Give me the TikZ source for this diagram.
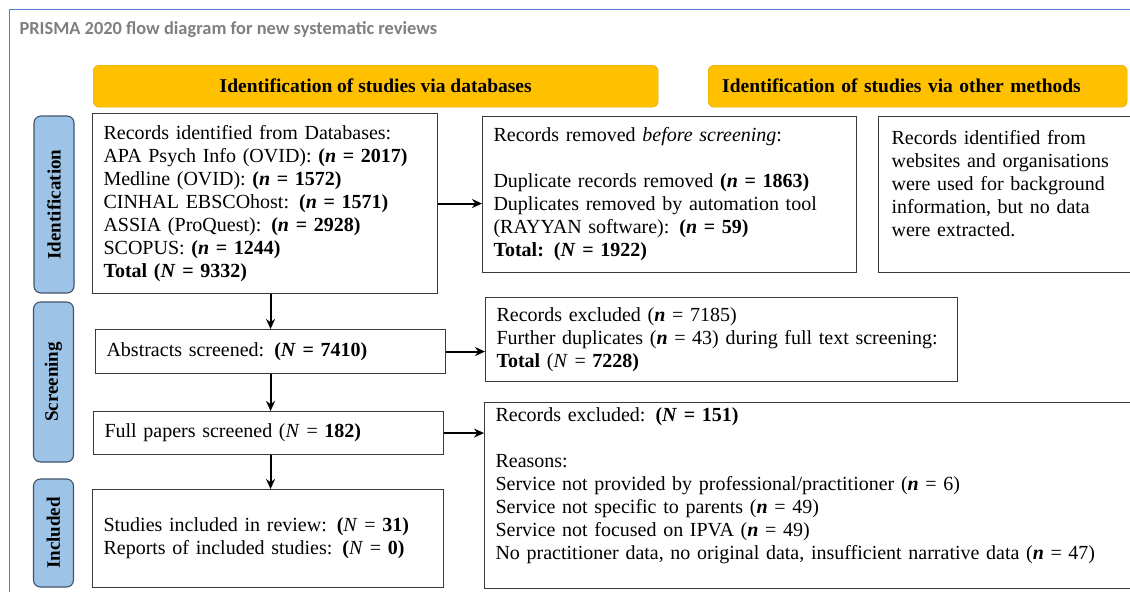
\documentclass[tikz,border=0pt]{standalone}
\usepackage{fontspec}
\setmainfont{Liberation Serif}
\newfontfamily\prismafont{Carlito}
\usetikzlibrary{arrows.meta}
\definecolor{hdryellow}{HTML}{FFC000}
\definecolor{hdredge}{HTML}{D9A400}
\definecolor{phaseblue}{HTML}{9DC3E6}
\definecolor{phaseedge}{HTML}{41536B}
\definecolor{frameblue}{HTML}{4F81D0}
\definecolor{titlegray}{HTML}{7F7F7F}
\definecolor{boxgray}{HTML}{3A3A3A}
\newcommand{\bn}[1]{\textbf{(\textit{n} = #1)}}
\newcommand{\bN}[1]{\textbf{(\textit{N} = #1)}}
\begin{document}
\begin{tikzpicture}[x=1pt,y=-1pt,>={Stealth[length=10pt,width=9pt]},
  box/.style={draw=boxgray,line width=1.1pt,anchor=north west,align=left,inner xsep=11pt,inner ysep=0pt,font=\fontsize{20}{23}\selectfont},
  header/.style={draw=hdredge,fill=hdryellow,rounded corners=6pt,anchor=north west,minimum height=42pt,inner sep=0pt,font=\bfseries\fontsize{19.5}{22}\selectfont},
  phase/.style={draw=phaseedge,fill=phaseblue,rounded corners=7pt,line width=1.1pt,rotate=90,minimum height=40pt,inner sep=0pt,font=\bfseries\fontsize{19}{21}\selectfont},
  flow/.style={->,line width=2pt}]
\useasboundingbox (0,0) rectangle (1130,592);
% outer frame, cut off at the right and bottom
\draw[frameblue,line width=1.5pt] (9.5,592) -- (9.5,9.5) -- (1130,9.5);
\node[anchor=west,text=titlegray,font=\prismafont\bfseries\fontsize{18.4}{20}\selectfont] (title) at (16,30) {PRISMA 2020 flow diagram for new systematic reviews};

% headers
\node[header,minimum width=565pt] (hdrdb) at (93,65) {Identification of studies via databases};
\node[header,text width=391pt,inner xsep=14pt,align=left] (hdrother) at (708,65) {Identification of studies via other methods};

% phases
\node[phase,minimum width=177pt] (idphase) at (54,204.5) {Identification};
\node[phase,minimum width=160pt] (scphase) at (53.5,382) {Screening};
\node[phase,minimum width=108pt] (inphase) at (53.5,533) {Included};

% boxes
\node[box,text width=323pt,minimum height=180pt] (found) at (92,113) {Records identified from Databases:\\
  APA Psych Info (OVID): \bn{2017}\\
  Medline (OVID): \bn{1572}\\
  CINHAL EBSCOhost: \bn{1571}\\
  ASSIA (ProQuest): \bn{2928}\\
  SCOPUS: \bn{1244}\\
  \textbf{Total \bN{9332}}};
\node[box,text width=352pt,minimum height=156pt] (removed) at (482,116) {Records removed \textit{before screening}:\\[23pt]
  Duplicate records removed \bn{1863}\\
  Duplicates removed by automation tool\\
  (RAYYAN software): \bn{59}\\
  \textbf{Total: \bN{1922}}};
\node[box,text width=240pt,minimum height=156pt,inner xsep=13pt] (other) at (878,116) {Records identified from\\
  websites and organisations\\
  were used for background\\
  information, but no data\\
  were extracted.\\ ~};
\node[box,text width=328pt,minimum height=44pt] (abstr) at (95,329) {Abstracts screened: \bN{7410}};
\node[box,text width=450pt,minimum height=84pt] (excl) at (485,297) {Records excluded (\textbf{\textit{n}} = 7185)\\
  Further duplicates (\textbf{\textit{n}} = 43) during full text screening:\\
  \textbf{Total} (\textit{N} = \textbf{7228)}};
\node[box,text width=328pt,minimum height=43pt] (full) at (93,411) {Full papers screened (\textit{N} = \textbf{182)}};
\node[box,text width=640pt,minimum height=186pt] (exclfull) at (484,402) {Records excluded: \bN{151}\\[23pt]
  Reasons:\\
  Service not provided by professional/practitioner (\textbf{\textit{n}} = 6)\\
  Service not specific to parents (\textbf{\textit{n}} = 49)\\
  Service not focused on IPVA (\textbf{\textit{n}} = 49)\\
  No practitioner data, no original data, insufficient narrative data (\textbf{\textit{n}} = 47)\\ ~};
\node[box,text width=329pt,minimum height=98pt] (incl) at (92,489) {Studies included in review: \textbf{(}\textit{N} = \textbf{31)}\\
  Reports of included studies: \textbf{(}\textit{N} = \textbf{0)}};

% arrows
\draw[flow] (found.south -| abstr.north) -- (abstr.north);
\draw[flow] (abstr.south) -- (abstr.south |- full.north);
\draw[flow] (full.south -| abstr.south) -- (incl.north -| abstr.south);
\draw[flow] (found.east) -- (found.east -| removed.west);
\draw[flow] (abstr.east) -- (abstr.east -| excl.west);
\draw[flow] (full.east) -- (full.east -| exclfull.west);
\end{tikzpicture}
\end{document}
